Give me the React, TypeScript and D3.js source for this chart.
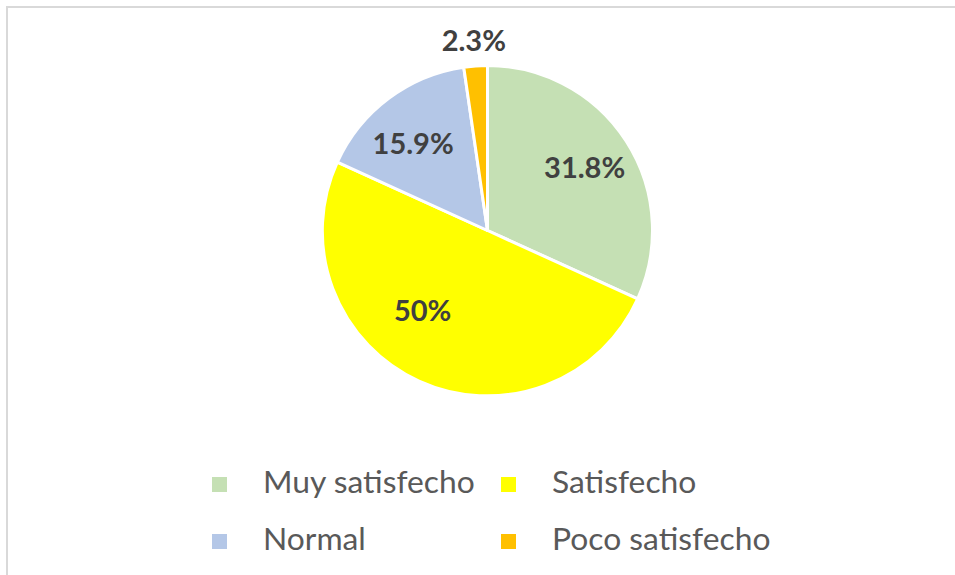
import React from "react";
import * as d3 from "d3";

const categories = ["Muy satisfecho", "Satisfecho", "Normal", "Poco satisfecho"];
const values = [31.8, 50, 15.9, 2.3];
const labels = ["31.8%", "50%", "15.9%", "2.3%"];
const colors = ["#C5E0B4", "#FFFF00", "#B4C7E7", "#FFC000"];

// label layout hints (offsets from arc centroid, in px) and whether outside
const labelOffsets: [number, number][] = [[0, 0], [-17, -25], [-5, 5], [0, 0]];
const labelOutside = [false, false, false, true];

const W = 955;
const H = 575;
const cx = 487.5;
const cy = 230.5;
const R = 165;

export default function App() {
  const pie = d3.pie<number>().sort(null).value((d) => d);
  const arcs = pie(values);
  const arcGen = d3.arc<d3.PieArcDatum<number>>().innerRadius(0).outerRadius(R);
  const labelArc = d3.arc<d3.PieArcDatum<number>>().innerRadius(115.5).outerRadius(115.5);
  const outerLabelArc = d3.arc<d3.PieArcDatum<number>>().innerRadius(190).outerRadius(190);

  const legendX = d3.scalePoint<number>().domain([0, 1]).range([212, 501]);
  const legendY = d3.scalePoint<number>().domain([0, 1]).range([477, 534]);

  return (
    <svg
      width={W}
      height={H}
      style={{ position: "absolute", left: 0, top: 0, background: "#fff" }}
    >
      <rect x={7} y={7} width={1200} height={1200} fill="#fff" stroke="#D9D9D9" strokeWidth={2} />
      <g transform={`translate(${cx},${cy})`}>
        {arcs.map((a, i) => (
          <path key={i} d={arcGen(a) || ""} fill={colors[i]} stroke="#fff" strokeWidth={3} strokeLinejoin="round" />
        ))}
        {arcs.map((a, i) => {
          const c = labelOutside[i] ? outerLabelArc.centroid(a) : labelArc.centroid(a);
          const [ox, oy] = labelOffsets[i];
          return (
            <text
              key={i}
              x={c[0] + ox}
              y={c[1] + oy}
              dy="0.36em"
              textAnchor="middle"
              fontFamily="Lato, 'Open Sans', sans-serif"
              fontWeight="bold"
              fontSize={29}
              fill="#404040"
            >
              {labels[i]}
            </text>
          );
        })}
      </g>
      {categories.map((c, i) => {
        const col = i % 2;
        const row = Math.floor(i / 2);
        const x = legendX(col)!;
        const y = legendY(row)!;
        return (
          <g key={c}>
            <rect x={x} y={y} width={15} height={15} fill={colors[i]} />
            <text
              x={x + 51}
              y={y + 16}
              fontFamily="Lato, 'Open Sans', sans-serif"
              fontSize={31.8}
              fill="#595959"
            >
              {c}
            </text>
          </g>
        );
      })}
    </svg>
  );
}
